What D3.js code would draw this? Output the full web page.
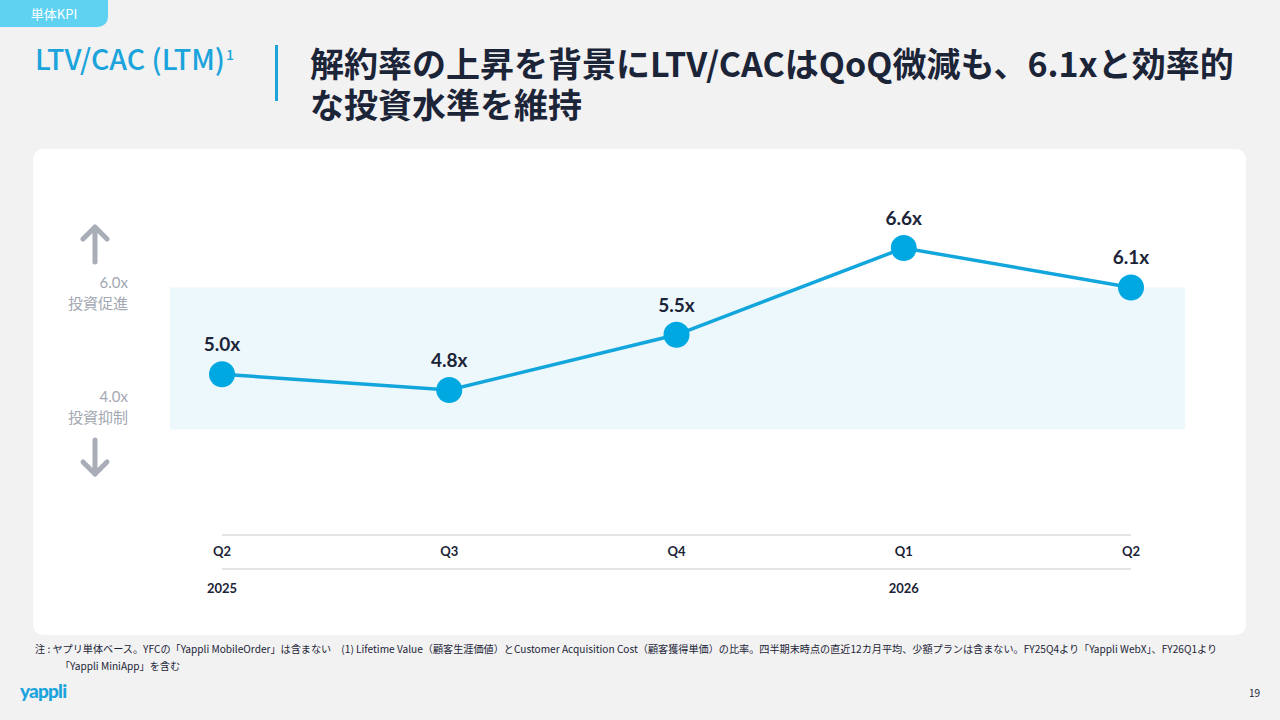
<html>
<head>
  <meta charset="utf-8">
  <title>LTV/CAC (LTM)</title>
  <script src="https://cdn.jsdelivr.net/npm/d3@7"></script>
  <style>
    body { margin: 0; background: #f2f2f2; }
    svg { display: block; }
    .jp { font-family: "Noto Sans CJK JP", "Noto Sans", sans-serif; }
    .num { font-family: Lato, "Noto Sans", sans-serif; }
  </style>
</head>
<body>
  <script>
    // data
    var quarters = ["Q2", "Q3", "Q4", "Q1", "Q2"];
    var years = ["2025", "", "", "2026", ""];
    var ltvCac = [5.0, 4.8, 5.5, 6.6, 6.1];
    var valueLabels = ["5.0x", "4.8x", "5.5x", "6.6x", "6.1x"];
    var bandRange = [4.3, 6.1];   // shaded zone as drawn
    var bandLabels = [["6.0x", "投資促進"], ["4.0x", "投資抑制"]];

    var width = 1280, height = 720;
    var blue = "#00a8e1", navy = "#1c2438", grey = "#a3a8b2";

    var svg = d3.select("body").append("svg")
      .attr("width", width)
      .attr("height", height);

    // header tag
    svg.append("path")
      .attr("d", "M0,0H108V17a10,10 0 0 1 -10,10H0Z")
      .attr("fill", "#5fd2f2");
    svg.append("text").attr("class", "jp")
      .attr("x", 54).attr("y", 19).attr("text-anchor", "middle")
      .attr("fill", "#fff").attr("font-size", 13).attr("font-weight", 400)
      .text("単体KPI");

    // left title
    var t = svg.append("text").attr("class", "jp")
      .attr("x", 35).attr("y", 70)
      .attr("fill", "#1ba3dc").attr("font-size", 28.5).attr("font-weight", 500);
    t.append("tspan").text("LTV/CAC (LTM)");
    t.append("tspan").attr("font-size", 14).attr("dy", -10).attr("dx", 1).text("1");

    svg.append("rect")
      .attr("x", 275).attr("y", 45).attr("width", 3).attr("height", 56)
      .attr("fill", "#1ba3dc");

    // heading, two lines in one text block
    var heading = ["解約率の上昇を背景にLTV/CACはQoQ微減も、6.1xと効率的", "な投資水準を維持"];
    svg.append("text")
      .attr("class", "jp")
      .attr("y", 77)
      .attr("fill", navy).attr("font-size", 34).attr("font-weight", 700)
      .selectAll("tspan").data(heading).enter().append("tspan")
      .attr("x", 310)
      .attr("dy", function(d, i) { return i === 0 ? 0 : 41; })
      .text(function(d) { return d; });

    // card
    svg.append("rect")
      .attr("x", 33).attr("y", 149).attr("width", 1213).attr("height", 486)
      .attr("rx", 10).attr("fill", "#fff");

    // scales
    var x = d3.scalePoint()
      .domain(d3.range(quarters.length))
      .range([222, 1131]);

    var y = d3.scaleLinear()
      .domain([4.8, 6.6])
      .range([390, 248]);

    // shaded band
    svg.append("rect")
      .attr("x", 170).attr("width", 1015)
      .attr("y", y(bandRange[1]))
      .attr("height", y(bandRange[0]) - y(bandRange[1]))
      .attr("fill", "#edf8fd");

    // left annotations
    var ann = svg.append("g").attr("class", "jp").attr("fill", grey).attr("text-anchor", "end");
    bandLabels.forEach(function(lbl, i) {
      var top = i === 0 ? 288 : 402;
      ann.append("text").attr("class", "num").attr("x", 128).attr("y", top)
        .attr("font-size", 15).text(lbl[0]);
      ann.append("text").attr("x", 128).attr("y", top + 21)
        .attr("font-size", 15).text(lbl[1]);
    });

    var arrow = svg.append("g").attr("fill", "none").attr("stroke", "#a8adb8")
      .attr("stroke-width", 5).attr("stroke-linecap", "round").attr("stroke-linejoin", "round");
    arrow.append("path").attr("d", "M95,262V227M83,239L95,227L107,239");
    arrow.append("path").attr("d", "M95,440V474M83,462L95,474L107,462");

    // x axis lines and labels
    svg.selectAll(".axisline").data([535, 569]).enter().append("line")
      .attr("class", "axisline")
      .attr("x1", 222).attr("x2", 1131)
      .attr("y1", function(d) { return d; }).attr("y2", function(d) { return d; })
      .attr("stroke", "#dcdcdc").attr("stroke-width", 1.5);

    svg.selectAll(".qlabel").data(quarters).enter().append("text")
      .attr("class", "num qlabel")
      .attr("x", function(d, i) { return x(i); }).attr("y", 556)
      .attr("text-anchor", "middle")
      .attr("fill", navy).attr("font-size", 13).attr("font-weight", 700)
      .text(function(d) { return d; });

    svg.selectAll(".ylabel").data(years).enter().append("text")
      .attr("class", "num ylabel")
      .attr("x", function(d, i) { return x(i); }).attr("y", 593)
      .attr("text-anchor", "middle")
      .attr("fill", navy).attr("font-size", 13).attr("font-weight", 700)
      .text(function(d) { return d; });

    // line
    var line = d3.line()
      .x(function(d, i) { return x(i); })
      .y(function(d) { return y(d); });

    svg.append("path")
      .datum(ltvCac)
      .attr("d", line)
      .attr("fill", "none")
      .attr("stroke", "#12a6dd")
      .attr("stroke-width", 3.5);

    svg.selectAll(".dot").data(ltvCac).enter().append("circle")
      .attr("class", "dot")
      .attr("cx", function(d, i) { return x(i); })
      .attr("cy", function(d) { return y(d); })
      .attr("r", 13)
      .attr("fill", blue);

    svg.selectAll(".vlabel").data(ltvCac).enter().append("text")
      .attr("class", "num vlabel")
      .attr("x", function(d, i) { return x(i); })
      .attr("y", function(d) { return y(d) - 23; })
      .attr("text-anchor", "middle")
      .attr("fill", navy).attr("font-size", 19).attr("font-weight", 700)
      .text(function(d, i) { return valueLabels[i]; });

    // footnote
    var notes = [
      "注 : ヤプリ単体ベース。YFCの「Yappli MobileOrder」は含まない　(1) Lifetime Value（顧客生涯価値）とCustomer Acquisition Cost（顧客獲得単価）の比率。四半期末時点の直近12カ月平均、少額プランは含まない。FY25Q4より「Yappli WebX」、FY26Q1より",
      "「Yappli MiniApp」を含む"
    ];
    svg.selectAll(".note").data(notes).enter().append("text")
      .attr("class", "jp note")
      .attr("x", function(d, i) { return i === 0 ? 35 : 60; })
      .attr("y", function(d, i) { return 653 + i * 17; })
      .attr("fill", navy).attr("font-size", 10.15)
      .text(function(d) { return d; });

    // logo and page number
    svg.append("text").attr("class", "num")
      .attr("x", 20).attr("y", 698)
      .attr("fill", "#1ba3dc").attr("font-size", 19).attr("font-weight", 900)
      .attr("letter-spacing", -0.8)
      .text("yappli");

    svg.append("text").attr("class", "jp")
      .attr("x", 1260).attr("y", 697).attr("text-anchor", "end")
      .attr("fill", navy).attr("font-size", 10)
      .text("19");
  </script>
</body>
</html>
